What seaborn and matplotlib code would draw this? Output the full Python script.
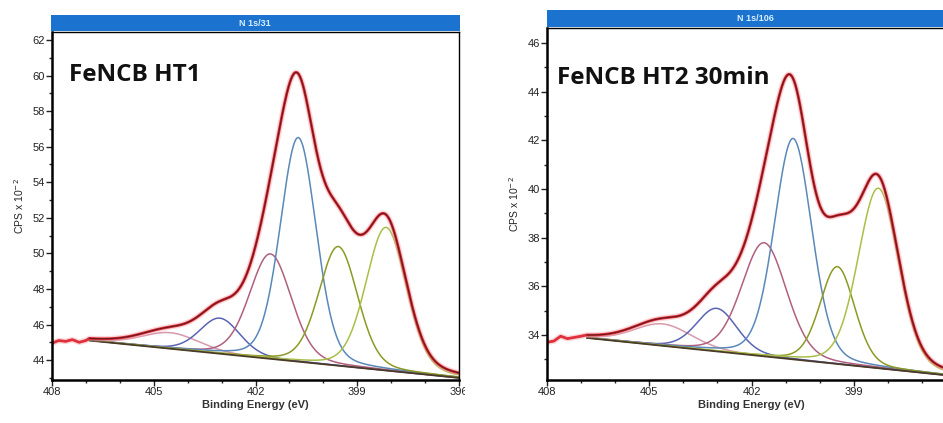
import numpy as np
import pandas as pd
import matplotlib
matplotlib.use("Agg")
import matplotlib.pyplot as plt
import seaborn as sns
from matplotlib.patches import Rectangle
from matplotlib.transforms import Bbox, TransformedBbox

sns.set_theme(style="white")
plt.rcParams['font.family'] = ['Liberation Sans', 'DejaVu Sans']

# ---------------- data ----------------
panel_titles = ["N 1s/31", "N 1s/106"]
sample_labels = ["FeNCB HT1", "FeNCB HT2 30min"]
x_ticks = [408, 405, 402, 399, 396]

# fitted components: centre (eV), height above background (CPS x 1e-2), FWHM (eV)
comp_names = ["N-O", "N-ox", "graphitic", "Fe-N / pyrrolic", "pyridinic-2", "pyridinic"]
ht1_centers = [404.5, 403.05, 401.56, 400.74, 399.56, 398.15]
ht1_heights = [0.9, 2.0, 5.9, 12.6, 6.7, 8.05]
ht1_fwhm = [2.0, 1.4, 1.45, 1.25, 1.35, 1.4]
ht1_bg = [45.1, 43.0]          # background at 406.9 eV and at 396 eV
ht1_bg_x = [406.9, 396.0]
ht1_left_x = [408.0, 407.8, 407.6, 407.4, 407.2, 407.0]   # raw data before fit region
ht1_left_y = [44.95, 45.1, 45.05, 45.15, 45.0, 45.1]
ht1_ylim = [42.88, 62.45]
ht1_yticks = [44, 46, 48, 50, 52, 54, 56, 58, 60, 62]
ht1_xticklabels = ["408", "405", "402", "399", "396"]

ht2_centers = [404.6, 403.02, 401.63, 400.78, 399.48, 398.28]
ht2_heights = [0.9, 1.77, 4.67, 9.08, 4.0, 7.4]
ht2_fwhm = [2.0, 1.4, 1.55, 1.3, 1.2, 1.4]
ht2_bg = [33.88, 32.36]
ht2_bg_x = [406.83, 396.39]
ht2_left_x = [408.0, 407.8, 407.6, 407.4, 407.2, 407.0]
ht2_left_y = [33.7, 33.75, 33.95, 33.85, 33.9, 33.95]
ht2_ylim = [32.15, 46.62]
ht2_yticks = [34, 36, 38, 40, 42, 44, 46]
ht2_xticklabels = ["408", "405", "402", "399", ""]

comp_colors = ["#d89aaa", "#5a64b4", "#b0607e", "#5a88b8", "#8c9a24", "#a9bf48"]
GL_MIX = 0.2  # Lorentzian fraction of the line shape


def line_shape(x, c, h, w):
    t = ((x - c) / w) ** 2
    g = np.exp(-4 * np.log(2) * t)
    l = 1.0 / (1.0 + 4 * t)
    return h * ((1 - GL_MIX) * g + GL_MIX * l)


fig = plt.figure(figsize=(9.43, 4.23), dpi=100)
W, H = 943, 423

panels = [
    dict(rect=(52, 32, 459, 380), centers=ht1_centers, heights=ht1_heights, fwhm=ht1_fwhm,
         bg=ht1_bg, bgx=ht1_bg_x, lx=ht1_left_x, ly=ht1_left_y, ylim=ht1_ylim,
         yticks=ht1_yticks, xtl=ht1_xticklabels, title=panel_titles[0], label=sample_labels[0],
         bar=(51, 15, 460, 31), lab_xy=(69, 75), title_x=255),
    dict(rect=(547, 28, 956, 380), centers=ht2_centers, heights=ht2_heights, fwhm=ht2_fwhm,
         bg=ht2_bg, bgx=ht2_bg_x, lx=ht2_left_x, ly=ht2_left_y, ylim=ht2_ylim,
         yticks=ht2_yticks, xtl=ht2_xticklabels, title=panel_titles[1], label=sample_labels[1],
         bar=(547, 10, 960, 27), lab_xy=(557, 78), title_x=755),
]

for i, p in enumerate(panels):
    x0, y0, x1, y1 = p["rect"]
    ax = fig.add_axes([x0 / W, 1 - y1 / H, (x1 - x0) / W, (y1 - y0) / H])
    ax.set_facecolor("white")

    xs = np.linspace(p["bgx"][0], p["bgx"][1], 600)
    slope = (p["bg"][0] - p["bg"][1]) / (p["bgx"][0] - p["bgx"][1])
    bg = p["bg"][1] + slope * (xs - p["bgx"][1])

    total = bg.copy()
    for c, h, w, col in zip(p["centers"], p["heights"], p["fwhm"], comp_colors):
        comp = line_shape(xs, c, h, w)
        total += comp
        sns.lineplot(x=xs, y=bg + comp, color=col, linewidth=1.1, ax=ax, sort=False,
                     estimator=None)

    sns.lineplot(x=xs, y=bg, color="#4a3a28", linewidth=1.3, ax=ax, sort=False, estimator=None)

    data_x = np.concatenate([p["lx"], xs])
    data_y = np.concatenate([p["ly"], total])
    sns.lineplot(x=data_x, y=data_y, color="#f6a8b0", linewidth=4, alpha=0.45, ax=ax,
                 sort=False, estimator=None)
    sns.lineplot(x=data_x, y=data_y, color="#e0303c", linewidth=2.0, ax=ax, sort=False,
                 estimator=None)
    sns.lineplot(x=xs, y=total, color="#6e1818", linewidth=0.9, ax=ax, sort=False,
                 estimator=None)

    ax.set_xlim(408, 396)
    ax.set_ylim(*p["ylim"])
    ax.set_xticks(x_ticks)
    ax.set_xticklabels(p["xtl"])
    ax.set_xticks(np.arange(396, 409, 1), minor=True)
    ax.set_yticks(p["yticks"])
    ax.set_yticklabels([str(t) for t in p["yticks"]])
    ax.set_yticks(np.arange(int(np.ceil(p["ylim"][0])), p["ylim"][1], 1), minor=True)
    ax.tick_params(axis="both", which="major", direction="out", length=4, width=1,
                   labelsize=8, colors="#222222", pad=1, bottom=True, left=True)
    ax.tick_params(axis="both", which="minor", direction="out", length=2.5, width=1,
                   bottom=True, left=True)
    for sp in ax.spines.values():
        sp.set_color("black")
        sp.set_linewidth(1.0)
    ax.spines["left"].set_linewidth(1.8)
    ax.spines["bottom"].set_linewidth(1.8)
    ax.grid(False)

    ax.set_xlabel("Binding Energy (eV)", fontsize=8, fontweight="bold", color="#333333",
                  labelpad=2)
    ax.set_ylabel("CPS x 10$^{-2}$", fontsize=7.5, color="#222222", labelpad=5)

    # blue title bar
    bx0, by0, bx1, by1 = p["bar"]
    fig.patches.append(Rectangle((bx0 / W, 1 - by1 / H), (bx1 - bx0) / W, (by1 - by0) / H,
                                 transform=fig.transFigure, facecolor="#1c72cf",
                                 edgecolor="none", zorder=5))
    fig.text(p["title_x"] / W, 1 - (by0 + by1) / 2 / H, p["title"], color="#d8f0ff",
             fontsize=6.5, fontweight="bold", ha="center", va="center", zorder=6)

    fig.text(p["lab_xy"][0] / W, 1 - p["lab_xy"][1] / H, p["label"],
             family=["Open Sans", "DejaVu Sans"], fontweight="bold", fontsize=17.5,
             color="#111111", ha="left", va="center")

    if i == 0:
        fig.canvas.draw()
        clip = TransformedBbox(Bbox([[0, 0], [465 / W, 1]]), fig.transFigure)
        for t in ax.get_xticklabels():
            t.set_clip_on(True)
            t.set_clip_box(clip)

fig.savefig("out.png", dpi=100, facecolor="white")
